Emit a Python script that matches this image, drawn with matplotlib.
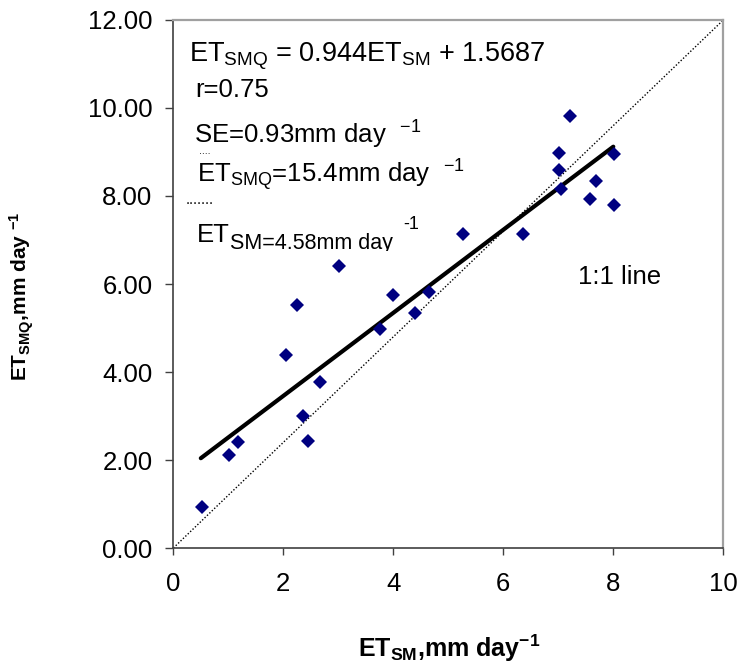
import numpy as np
import matplotlib
matplotlib.use("Agg")
import matplotlib.pyplot as plt
from matplotlib.transforms import Bbox, TransformedBbox

plt.rcParams['font.family'] = 'Liberation Sans'
plt.rcParams['mathtext.fontset'] = 'custom'
plt.rcParams['mathtext.rm'] = 'Liberation Sans'
plt.rcParams['mathtext.it'] = 'Liberation Sans'
plt.rcParams['mathtext.bf'] = 'Liberation Sans:bold'

# daily ET from the SM method vs. the SMQ method (mm/day)
et_sm = [0.52, 1.02, 1.18, 2.05, 2.24, 2.36, 2.44, 2.67, 3.02, 3.76, 4.00,
         4.39, 4.65, 5.26, 6.36, 7.02, 7.02, 7.05, 7.22, 7.58, 7.69, 8.01, 8.01]
et_smq = [0.94, 2.11, 2.42, 4.39, 5.52, 3.01, 2.43, 3.77, 6.41, 4.97, 5.74,
          5.35, 5.82, 7.13, 7.13, 8.97, 8.58, 8.15, 9.82, 7.94, 8.34, 8.96, 7.80]

# regression ET_SMQ = a*ET_SM + b
slope, intercept = 0.944, 1.5687
fit_x = np.array([0.5, 8.0])

# reference diagonal
diag_x = [0, 10]
diag_y = [0, 12]

x_ticks = [0, 2, 4, 6, 8, 10]
y_ticks = [0, 2, 4, 6, 8, 10, 12]

fig = plt.figure(figsize=(7.41, 6.71), dpi=100)
ax = fig.add_axes([0.2339, 0.1833, 0.7422, 0.7869])

ax.plot(diag_x, diag_y, color='black', lw=1.0, ls=(0, (1, 1.4)))
ax.plot(fit_x, slope * fit_x + intercept, color='black', lw=3.0,
        solid_capstyle='round')
ax.plot(et_sm, et_smq, ls='none', marker='D', ms=6.8, color='#000080',
        markeredgewidth=0)

ax.set_xlim(0, 10)
ax.set_ylim(0, 12)
ax.set_xticks(x_ticks)
ax.set_yticks(y_ticks)
ax.set_yticklabels(['%.2f' % v for v in y_ticks])

ax.tick_params(axis='both', direction='out', color='#404040', width=1.0,
               labelsize=18.5)
ax.tick_params(axis='x', length=5, pad=12)
ax.tick_params(axis='y', length=6, pad=9)

for side in ['left', 'bottom']:
    ax.spines[side].set_color('#404040')
    ax.spines[side].set_linewidth(1.2)
for side in ['top', 'right']:
    ax.spines[side].set_color('#a0a0a0')
    ax.spines[side].set_linewidth(1.6)

tr = ax.transAxes
ax.text(0.029, 0.921, r'ET$_{\mathrm{SMQ}}$ = 0.944ET$_{\mathrm{SM}}$ + 1.5687',
        transform=tr, fontsize=19.5, va='baseline')
ax.text(0.0395, 0.854, 'r=0.75', transform=tr, fontsize=18.5, va='baseline')
ax.text(0.0376, 0.765, r'SE=0.93mm day  $^{\mathrm{-1}}$', transform=tr,
        fontsize=18.5, va='baseline')
ax.text(0.047, 0.747, '....', transform=tr, fontsize=7.5, va='baseline')
ax.text(0.0425, 0.692, r'ET$_{\mathrm{SMQ}}$=15.4mm day  $^{\mathrm{-1}}$',
        transform=tr, fontsize=18.5, va='baseline')
ax.text(0.023, 0.651, '.......', transform=tr, fontsize=10.5, va='baseline')

# last line is cut off at the bottom of its text box
ax.text(0.0425, 0.580, 'ET', transform=tr, fontsize=18.5, va='baseline')
clipped = ax.text(0.103, 0.567, 'SM=4.58mm day', transform=tr,
                  fontsize=15.5, va='baseline')
clipped.set_clip_box(TransformedBbox(Bbox([[0, 0.562], [1, 1]]), tr))
clipped.set_clip_on(True)
ax.text(0.418, 0.604, '-1', transform=tr, fontsize=13, va='baseline')

ax.text(0.736, 0.500, '1:1 line', transform=tr, fontsize=18.5, va='baseline')

fig.text(0.606, 0.021, r'$\mathbf{ET_{SM}{,}mm\ day^{-1}}$', fontsize=18,
         ha='center', va='baseline')
fig.text(0.030, 0.559, r'$\mathbf{ET_{SMQ}{,}mm\ day\ ^{-1}}$', fontsize=15,
         ha='center', va='center', rotation=90)

fig.savefig('out.png', dpi=100)
